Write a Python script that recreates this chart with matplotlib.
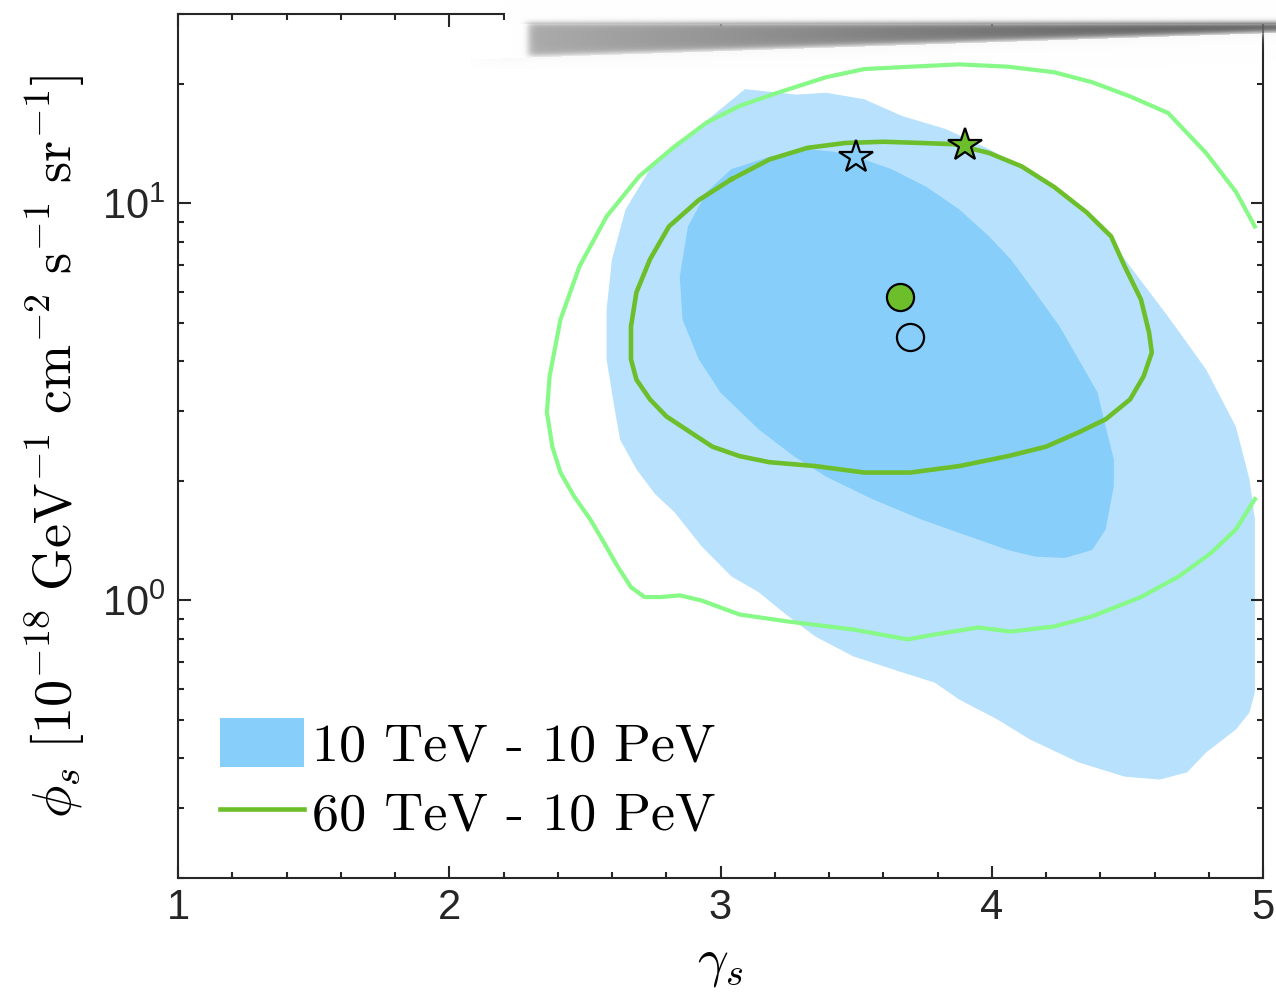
import numpy as np
import matplotlib
matplotlib.use('Agg')
from matplotlib import pyplot as plt
from matplotlib.patches import Patch
from matplotlib.lines import Line2D
from matplotlib.ticker import MultipleLocator, LogLocator

# outer blue region (10 TeV - 10 PeV, wide)
g_out = [3.09, 3.28, 3.39, 3.53, 3.67, 3.83, 3.99, 4.14, 4.28, 4.41, 4.51, 4.65, 4.79, 4.90,
         4.95, 4.97, 4.97, 4.97, 4.95, 4.90, 4.79, 4.72, 4.62, 4.49, 4.32, 4.14, 4.02, 3.88,
         3.79, 3.67, 3.49, 3.35, 3.25, 3.14, 3.04, 2.93, 2.83, 2.76, 2.69, 2.63, 2.61, 2.58,
         2.58, 2.60, 2.65, 2.74, 2.88]
p_out = [19.4, 18.8, 19.0, 18.3, 16.6, 15.4, 13.7, 12.0, 10.2, 8.60, 6.94, 5.19, 3.82, 2.74,
         2.02, 1.60, 1.00, 0.587, 0.522, 0.473, 0.414, 0.369, 0.354, 0.360, 0.391, 0.447, 0.502, 0.563,
         0.621, 0.659, 0.723, 0.811, 0.912, 1.05, 1.15, 1.37, 1.67, 1.85, 2.14, 2.54, 3.03, 4.05,
         5.41, 7.23, 9.66, 12.2, 14.8]

# inner blue region
g_in = [3.32, 3.42, 3.53, 3.63, 3.76, 3.88, 3.99, 4.07, 4.16, 4.25, 4.32, 4.39, 4.42, 4.45,
        4.45, 4.42, 4.37, 4.27, 4.16, 4.06, 3.88, 3.74, 3.56, 3.39, 3.27, 3.14, 3.00, 2.92,
        2.86, 2.85, 2.88, 2.95, 3.04, 3.18]
p_in = [13.7, 13.5, 12.9, 12.2, 11.0, 9.66, 8.26, 7.23, 5.97, 4.90, 4.05, 3.34, 2.74, 2.27,
        1.94, 1.51, 1.34, 1.28, 1.29, 1.34, 1.48, 1.60, 1.80, 2.05, 2.31, 2.70, 3.34, 4.05,
        5.10, 6.55, 8.75, 10.7, 12.2, 13.1]

# 60 TeV - 10 PeV, inner contour
g_g1 = [3.04, 3.18, 3.32, 3.46, 3.60, 3.74, 3.86, 3.99, 4.11, 4.23, 4.35, 4.44, 4.49, 4.55,
        4.58, 4.59, 4.56, 4.51, 4.42, 4.32, 4.20, 4.06, 3.88, 3.70, 3.53, 3.35, 3.18, 3.07,
        2.97, 2.89, 2.80, 2.74, 2.69, 2.67, 2.67, 2.69, 2.74, 2.81, 2.92, 3.04]
p_g1 = [11.5, 12.9, 13.8, 14.2, 14.3, 14.2, 14.1, 13.4, 12.4, 11.0, 9.49, 8.26, 6.94, 5.73,
        4.73, 4.21, 3.67, 3.21, 2.86, 2.65, 2.44, 2.31, 2.18, 2.10, 2.10, 2.18, 2.23, 2.31,
        2.44, 2.65, 2.91, 3.21, 3.60, 4.05, 4.90, 5.97, 7.23, 8.75, 10.2, 11.5]

# 60 TeV - 10 PeV, outer contour
g_g2 = [4.97, 4.90, 4.79, 4.65, 4.51, 4.37, 4.23, 4.06, 3.88, 3.70, 3.53, 3.39, 3.21, 3.07,
        2.95, 2.83, 2.70, 2.58, 2.48, 2.41, 2.37, 2.36, 2.38, 2.41, 2.46, 2.52, 2.57, 2.62,
        2.67, 2.72, 2.78, 2.85, 2.93, 3.00, 3.07, 3.25, 3.49, 3.69, 3.79, 3.95, 4.07, 4.23,
        4.37, 4.55, 4.69, 4.81, 4.90, 4.97]
p_g2 = [8.75, 10.7, 13.4, 16.9, 18.6, 20.2, 21.4, 22.1, 22.4, 22.1, 21.8, 20.8, 19.0, 17.6,
        16.0, 13.9, 11.7, 9.27, 6.94, 5.10, 3.67, 2.98, 2.44, 2.10, 1.83, 1.60, 1.40, 1.22,
        1.08, 1.02, 1.02, 1.03, 1.00, 0.960, 0.922, 0.885, 0.845, 0.798, 0.821, 0.855, 0.835, 0.860,
        0.912, 1.02, 1.15, 1.32, 1.51, 1.80]

# best fits and other points
best_10 = (3.70, 4.62)
best_60 = (3.66, 5.80)
star_10 = (3.50, 13.1)
star_60 = (3.90, 14.0)

blue = '#87CEFA'
dgreen = '#6CBF2A'
lgreen = '#86F986'
axc = '#262626'

plt.rcParams['font.family'] = ['Liberation Sans Narrow', 'Liberation Sans', 'DejaVu Sans']

fig = plt.figure(figsize=(12.76, 9.99), dpi=100)
ax = fig.add_axes([178/1276, 121/999, 1085/1276, 864/999])

ax.fill(g_out, p_out, color=blue, alpha=0.6, lw=0, zorder=1)
ax.fill(g_in, p_in, color=blue, lw=0, zorder=2)
ax.plot(g_g2, p_g2, color=lgreen, lw=3, zorder=3)
ax.plot(g_g1, p_g1, color=dgreen, lw=3.3, zorder=4)

ax.plot(*best_60, 'o', ms=19.5, mfc=dgreen, mec='k', mew=1.6, zorder=5)
ax.plot(*best_10, 'o', ms=19.5, mfc=blue, mec='k', mew=1.6, zorder=5)
ax.plot(*star_10, '*', ms=25, mfc=blue, mec='k', mew=1.6, zorder=5)
ax.plot(*star_60, '*', ms=25, mfc=dgreen, mec='k', mew=1.6, zorder=5)

ax.set_yscale('log')
ax.set_xlim(1, 5)
ax.set_ylim(0.2, 30)
ax.xaxis.set_major_locator(MultipleLocator(1))
ax.xaxis.set_minor_locator(MultipleLocator(0.2))
ax.yaxis.set_major_locator(LogLocator(base=10))
ax.yaxis.set_minor_locator(LogLocator(base=10, subs=np.arange(2, 10)))

ax.tick_params(which='both', direction='in', top=True, right=True, colors=axc,
               labelsize=30, width=1.5)
ax.tick_params(which='major', length=9)
ax.tick_params(which='minor', length=4.5)
ax.tick_params(axis='x', pad=7)
ax.tick_params(axis='y', pad=9)
for s in ax.spines.values():
    s.set_color(axc)
    s.set_linewidth(1.5)

ax.set_xlabel(r'$\gamma_s$', fontsize=39, math_fontfamily='cm', labelpad=8)
ax.set_ylabel(r'$\phi_s\ [10^{-18}\ \mathrm{GeV}^{-1}\ \mathrm{cm}^{-2}\ \mathrm{s}^{-1}\ \mathrm{sr}^{-1}]$',
              fontsize=39, math_fontfamily='cm', labelpad=10)

handles = [Patch(facecolor=blue, edgecolor='none'),
           Line2D([], [], color=dgreen, lw=3.3)]
ax.legend(handles, ['10 TeV - 10 PeV', '60 TeV - 10 PeV'], loc='upper left',
          bbox_to_anchor=(0.039, 0.185), frameon=False, prop={'family': 'cmr10', 'size': 39},
          handlelength=1.55, handleheight=1.0, handletextpad=0.15, labelspacing=0.3,
          borderpad=0, borderaxespad=0)

# smudge from the figure above (gray band at the top)
W, H = 806, 70
X, Y = np.meshgrid(np.arange(W) + 470, np.arange(H))
top = 22.0
bot = 57 - (X - 530) * 24 / 730
sig = lambda z: 1 / (1 + np.exp(-z))
band = sig((Y - top) / 1.5) * sig((bot - Y) / 2.0) * sig((X - 526) / 2.5)
gv = np.clip(0.67 - (X - 530) * 0.34 / 730, 0.33, 0.7)
cover = ((X >= 505) & (Y < top + 2)).astype(float)
halo = np.where(Y > bot, 0.5 * np.exp(-(Y - bot) / 6), 0) * sig((X - 480) / 10)
rgb = np.ones((H, W, 3))
rgb *= (1 - band)[..., None]
rgb += (band * gv)[..., None]
rgb = np.where((halo > band)[..., None] & (cover == 0)[..., None], 0.95, rgb)
alpha = np.clip(np.maximum.reduce([band, cover, halo]), 0, 1)
img = np.dstack([rgb, alpha])
ax2 = fig.add_axes([470/1276, 1 - 70/999, W/1276, H/999], zorder=10)
ax2.imshow(img, aspect='auto', interpolation='bilinear')
ax2.axis('off')

fig.savefig('out.png', dpi=100)
